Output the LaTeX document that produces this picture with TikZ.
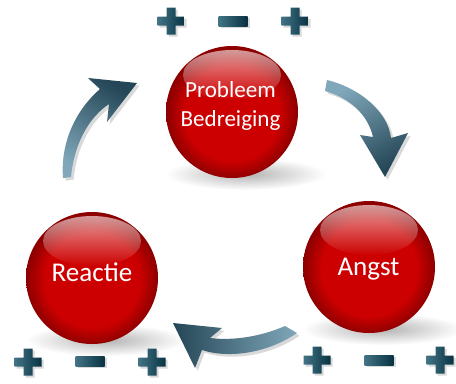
\documentclass[tikz,border=0pt]{standalone}
\usepackage{fontspec}
\setmainfont{Carlito}
\usetikzlibrary{fadings,shadows}

\definecolor{sphred}{RGB}{204,0,0}
\definecolor{sphdark}{RGB}{140,0,0}
\definecolor{arrdark}{RGB}{36,70,86}
\definecolor{arrlight}{RGB}{128,168,186}
\definecolor{signdark}{RGB}{8,50,66}
\definecolor{signlight}{RGB}{66,116,134}

\pgfdeclareradialshading{redsphere}{\pgfpoint{0bp}{-1bp}}{color(0bp)=(sphred); color(18bp)=(sphred); color(25bp)=(sphdark); color(50bp)=(sphdark)}

\tikzset{
  sphere/.style={circle, shading=redsphere, minimum size=99pt, inner sep=0pt},
  gloss/.style={white, fill opacity=0.6, path fading=south},
  sphshadow/.style={inner color=black!30, outer color=white},
  sphtext/.style={text=white, font=\fontsize{20.3}{24}\selectfont},
  bigarrow/.style={drop shadow={opacity=0.3, shadow xshift=2pt, shadow yshift=-2pt}},
  sign/.style={left color=signlight, right color=signdark, drop shadow={opacity=0.3, shadow xshift=1.5pt, shadow yshift=-1.5pt}}
}

\begin{document}
\begin{tikzpicture}[x=0.75pt, y=-0.75pt]
\useasboundingbox (0,0) rectangle (456,383);

% soft shadows under the balls
\foreach \x/\y in {232/112, 92/278, 369/267} {
  \shade[sphshadow] (\x+14,\y+62) ellipse (80 and 16);
}

% the three bent arrows
\shade[bigarrow, top color=arrdark, bottom color=arrlight, shading angle=-30]
  (63,178) .. controls (60,140) and (78,108) .. (100,89) -- (88,78) -- (137,83) -- (107,122) -- (109,104)
  .. controls (88,118) and (74,145) .. (71,177) -- cycle;
\shade[bigarrow, top color=arrlight, bottom color=arrdark, shading angle=30]
  (327,80) .. controls (360,88) and (388,112) .. (391,138) -- (408,133) -- (385,177) -- (360,135) -- (373,137)
  .. controls (368,115) and (350,98) .. (325,91) -- cycle;
\shade[bigarrow, left color=arrdark, right color=arrlight]
  (285,326) .. controls (262,336) and (235,341) .. (210,338) -- (222,328) -- (173,323) -- (195,368) -- (202,350)
  .. controls (225,358) and (265,355) .. (297,333) -- cycle;

% balls
\foreach \name/\x/\y in {probleem/232/112, reactie/92/278, angst/369/267} {
  \node[sphere] (\name) at (\x,\y) {};
  \fill[gloss] (\x,\y-37) ellipse (49 and 25);
}
\node[sphtext, font=\fontsize{17.3}{21.8}\selectfont, align=center] (probleemtext) at (230.5,106) {Probleem\\Bedreiging};
\node[sphtext, anchor=base] (reactietext) at (92,281) {Reactie};
\node[sphtext, anchor=base] (angsttext) at (368.5,275) {Angst};

% plus and minus signs
\foreach \x/\y in {171/21, 295/21, 28/362, 152/362, 317/360, 440/360}
  \shade[sign] (\x-13.5,\y-4.5) -- ++(9,0) -- ++(0,-9) -- ++(9,0) -- ++(0,9) -- ++(9,0) -- ++(0,9)
    -- ++(-9,0) -- ++(0,9) -- ++(-9,0) -- ++(0,-9) -- ++(-9,0) -- cycle;
\foreach \x/\y in {233/21, 90/361, 379/360}
  \shade[sign] (\x-14.5,\y-5) rectangle (\x+14.5,\y+5);
\end{tikzpicture}
\end{document}
